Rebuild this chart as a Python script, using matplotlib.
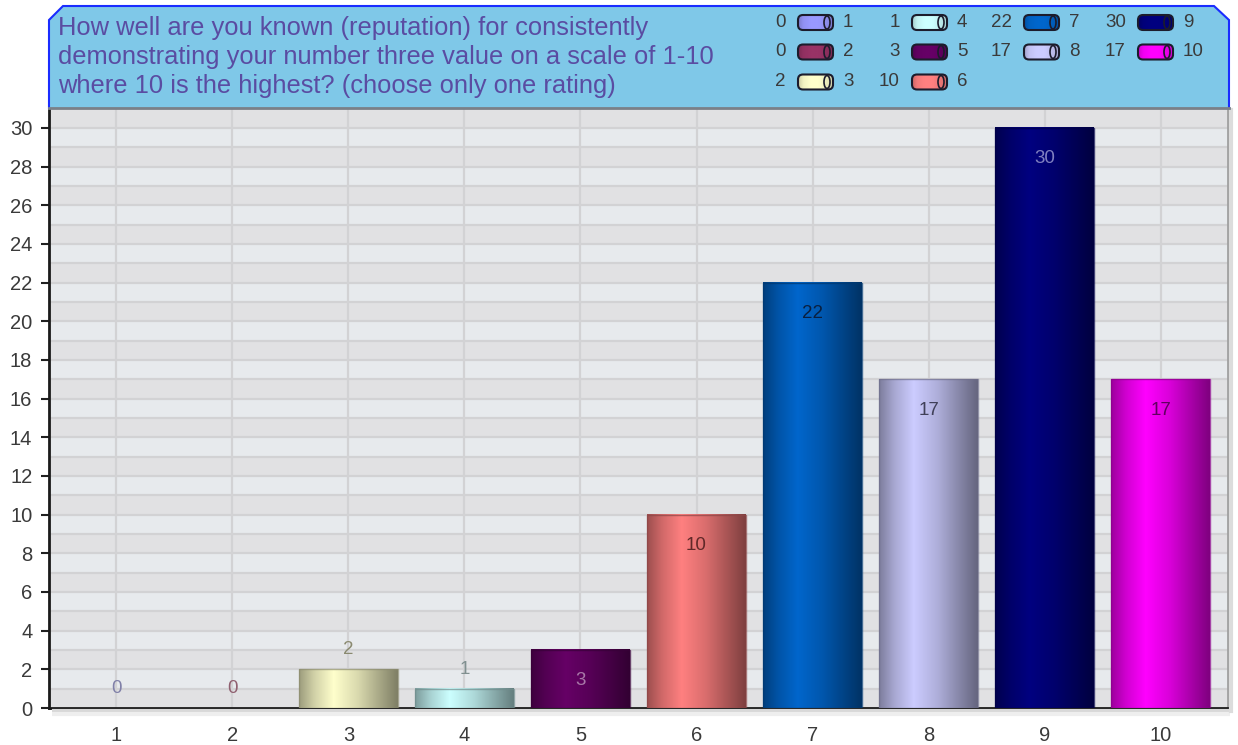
import numpy as np
import matplotlib.pyplot as plt
from matplotlib.colors import to_rgb
from matplotlib.patches import Polygon, FancyBboxPatch, Ellipse

# survey answers: rating -> number of responses
categories = ['1', '2', '3', '4', '5', '6', '7', '8', '9', '10']
counts = [0, 0, 2, 1, 3, 10, 22, 17, 30, 17]
bar_colors = ['#9999ff', '#993366', '#ffffcc', '#ccffff', '#660066',
              '#ff8080', '#0066cc', '#ccccff', '#000080', '#ff00ff']
value_colors = ['#8080a8', '#906070', '#8a8a70', '#809090', '#a878a8',
                '#602828', '#0a2040', '#404058', '#8080c0', '#600060']
yticks = list(range(0, 31, 2))

title = ("How well are you known (reputation) for consistently\n"
         "demonstrating your number three value on a scale of 1-10\n"
         "where 10 is the highest? (choose only one rating)")

plt.rcParams['font.family'] = ['Liberation Sans', 'DejaVu Sans']

W, H = 1238, 745
fig = plt.figure(figsize=(W / 100, H / 100), dpi=100)
fig.patch.set_facecolor('white')


def shade(color, n=64, lo=(0.62, 0.82, 1.0, 0.85, 0.5)):
    # horizontal "cylinder" shading: dark edges, highlight left of centre
    t = np.linspace(0, 1, n)
    f = np.interp(t, [0, 0.15, 0.35, 0.6, 1.0], lo)
    rgb = np.array(to_rgb(color))
    return np.clip(rgb[None, None, :] * f[None, :, None], 0, 1)


# main plot area
ax = fig.add_axes([49 / W, 1 - 708 / H, (1228 - 49) / W, 600 / H])
x = np.arange(1, len(categories) + 1)

for k in range(31):
    ax.axhspan(k, k + 1, color='#e1e1e3' if k % 2 == 0 else '#e7eaed', zorder=0, lw=0)
for k in range(1, 31):
    ax.axhline(k, color='#d2d2d4', lw=1.6, zorder=1)
for xi in x:
    ax.axvline(xi, color='#d2d2d4', lw=1.6, zorder=1)

bars = ax.bar(x, counts, width=0.85, color='none', zorder=4)
for b, c, vc, v in zip(bars, bar_colors, value_colors, counts):
    x0, w = b.get_x(), b.get_width()
    if v > 0:
        ax.imshow(shade(c), extent=[x0, x0 + w, 0, v], aspect='auto',
                  interpolation='bilinear', zorder=3)
        edge = np.array(to_rgb(c)) * 0.55
        b.set_edgecolor((*edge, 0.7))
        b.set_linewidth(1.0)
    ty = v - 1.6 if v >= 3 else v + 1.0
    ax.text(x0 + w / 2, ty, str(v), ha='center', va='center',
            fontsize=13.5, color=vc, zorder=5)

ax.set_xlim(0.42, 10.58)
ax.set_ylim(0, 31.03)
ax.set_xticks(x, categories)
ax.set_yticks(yticks)
ax.tick_params(axis='both', length=6, width=1.5, color='#202020',
               labelsize=14.5, labelcolor='#3a3a3a')
ax.tick_params(axis='y', pad=6)
ax.tick_params(axis='x', pad=7)

for side in ['left', 'bottom']:
    ax.spines[side].set_color('#1a1a1a')
    ax.spines[side].set_linewidth(2)
ax.spines['right'].set_color('#a0a0a0')
ax.spines['right'].set_linewidth(2)
ax.spines['top'].set_visible(False)

# overlay in pixel coordinates for the header, legend and shadows
ov = fig.add_axes([0, 0, 1, 1], zorder=5)
ov.set_xlim(0, W)
ov.set_ylim(H, 0)
ov.axis('off')
ov.patch.set_alpha(0)

ov.plot([52, 1230], [711, 711], color='#d8d8d8', lw=3, solid_capstyle='butt')
ov.plot([52, 1230], [714, 714], color='#eeeeee', lw=3, solid_capstyle='butt')
ov.plot([1231, 1231], [110, 711], color='#dcdcdc', lw=3)

header = Polygon([(49, 108), (49, 20), (63, 6), (1214, 6), (1229, 20), (1229, 108)],
                 closed=True, facecolor='#7fc8e8', edgecolor='none')
ov.add_patch(header)
ov.plot([49, 49, 63, 1214, 1229, 1229], [108, 20, 6, 6, 20, 108],
        color='#1a2cff', lw=1.5, solid_joinstyle='miter')
ov.plot([49, 1229], [108, 108], color='#7a8088', lw=2)

ov.text(58, 16, title, ha='left', va='top', fontsize=18.4, color='#5a4ca2',
        linespacing=1.25)

# legend: value, swatch, rating label
col_x = [798, 912, 1024, 1138]
row_y = [22.5, 52, 82]
sw_w, sw_h = 35, 15
for i, (cat, v, c) in enumerate(zip(categories, counts, bar_colors)):
    if i < 6:
        col, row = i // 3, i % 3
    else:
        col, row = 2 + (i - 6) // 2, (i - 6) % 2
    cx, cy = col_x[col], row_y[row]
    ov.text(cx - 12, cy, str(v), ha='right', va='center', fontsize=13.5, color='#3a3a3a')
    ov.imshow(shade(c, lo=(0.8, 0.95, 1.0, 1.0, 0.85)),
              extent=[cx, cx + sw_w, cy + sw_h / 2, cy - sw_h / 2],
              aspect='auto', interpolation='bilinear', zorder=6)
    box = FancyBboxPatch((cx, cy - sw_h / 2), sw_w, sw_h,
                         boxstyle='round,pad=0,rounding_size=5',
                         facecolor='none', edgecolor='#1c1c2c', lw=1.5, zorder=7)
    ov.add_patch(box)
    ov.images[-1].set_clip_path(box)
    ov.add_patch(Ellipse((cx + sw_w - 6, cy), 6, sw_h - 2, facecolor='none',
                         edgecolor='#1c1c2c', lw=1.2, zorder=7))
    ov.text(cx + sw_w + 10, cy, cat, ha='left', va='center', fontsize=13.5, color='#3a3a3a')

ov.set_xlim(0, W)
ov.set_ylim(H, 0)

fig.savefig('out.png', dpi=100)
